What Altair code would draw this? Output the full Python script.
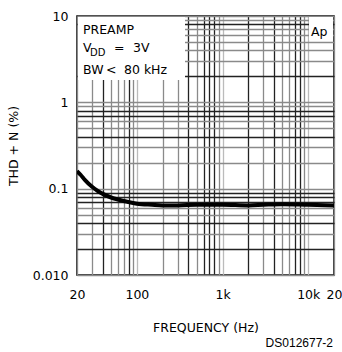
import altair as alt
import pandas as pd

# Curve data
freq = [20, 22, 25, 30, 35, 40, 50, 60, 70, 80, 100, 150, 200, 300, 500,
        1000, 2000, 3000, 5000, 10000, 20000]
thd = [0.16, 0.145, 0.125, 0.105, 0.094, 0.087, 0.079, 0.075, 0.072, 0.070,
       0.067, 0.065, 0.064, 0.064, 0.065, 0.065, 0.064, 0.065, 0.066, 0.065, 0.064]

# Grid positions
x_grid = [20, 30, 40, 50, 60, 70, 80, 90,
          100, 200, 300, 400, 500, 600, 700, 800, 900,
          1000, 2000, 3000, 4000, 5000, 6000, 7000, 8000, 9000,
          10000, 20000]
x_dark = [40, 80, 400, 600, 700, 800, 2000, 4000, 7000, 8000]
x_light = [100, 1000, 10000]
y_grid = [0.01, 0.02, 0.03, 0.04, 0.05, 0.06, 0.07, 0.08, 0.09,
          0.1, 0.2, 0.3, 0.4, 0.5, 0.6, 0.7, 0.8, 0.9,
          1, 2, 3, 4, 5, 6, 7, 8, 9, 10]
y_dark = [0.02, 0.04, 0.07, 0.08, 0.09, 0.4, 0.7, 0.8, 2, 8]

x_labels = {20: "20", 100: "100", 1000: "1k", 10000: "10k", 20000: "20"}
y_labels = {0.01: "0.010", 0.1: "0.1", 1: "1", 10: "10"}

FONT = "DejaVu Sans"
W, H = 257, 259


def is_one_of(vals):
    return " || ".join(f"abs(datum.value - {v}) < {v * 1e-6}" for v in vals)


def label_expr(mapping):
    expr = "''"
    for k, v in mapping.items():
        expr = f"abs(datum.value - {k}) < {k * 1e-6} ? '{v}' : " + expr
    return expr


def grid_color(dark, light=None):
    conds = [{"test": is_one_of(dark), "value": "#222222"}]
    if light:
        conds.append({"test": is_one_of(light), "value": "#bbbbbb"})
    return {"condition": conds, "value": "#8a8a8a"}


df = pd.DataFrame({"f": freq, "t": thd})

x_axis = alt.Axis(values=x_grid, labelExpr=label_expr(x_labels), grid=True,
                  gridColor=grid_color(x_dark, x_light), gridWidth=1.3,
                  ticks=False, domain=False, labelFlush=False, labelOverlap=False,
                  labelPadding=13, labelFont=FONT, labelFontSize=12.5, labelColor="black",
                  title="FREQUENCY (Hz)", titleFont=FONT, titleFontSize=12.5,
                  titleFontWeight="normal", titleColor="black",
                  titleX=W / 2, titleY=52, titleBaseline="middle", titleAlign="center")
y_axis = alt.Axis(values=y_grid, labelExpr=label_expr(y_labels), grid=True,
                  gridColor=grid_color(y_dark), gridWidth=1.3,
                  ticks=False, domain=False, labelFlush=False, labelOverlap=False,
                  labelPadding=9, labelFont=FONT, labelFontSize=12.5, labelColor="black",
                  title="THD + N (%)", titleFont=FONT, titleFontSize=12.5,
                  titleFontWeight="normal", titleColor="black",
                  titleX=-64, titleY=H / 2, titleAngle=-90,
                  titleBaseline="middle", titleAlign="center")

line = alt.Chart(df).mark_line(color="black", strokeWidth=4, clip=True,
                               interpolate="monotone").encode(
    x=alt.X("f:Q", scale=alt.Scale(type="log", domain=[20, 20000]), axis=x_axis),
    y=alt.Y("t:Q", scale=alt.Scale(type="log", domain=[0.01, 10]), axis=y_axis),
)

one = alt.Data(values=[{}])
box1 = alt.Chart(one).mark_rect(color="white").encode(
    x=alt.value(1), x2=alt.value(108), y=alt.value(1), y2=alt.value(64))
box2 = alt.Chart(one).mark_rect(color="white").encode(
    x=alt.value(232), x2=alt.value(256), y=alt.value(1), y2=alt.value(24))


def txt(s, x, y, size=12.5, align="left", font=FONT):
    return alt.Chart(one).mark_text(text=s, align=align, baseline="middle",
                                    font=font, fontSize=size, color="black").encode(
        x=alt.value(x), y=alt.value(y))


texts = [
    txt("PREAMP", 6, 14),
    txt("V", 6, 31.5),
    txt("DD", 13, 36.5, size=10),
    txt("=", 37, 31.5),
    txt("3V", 56, 31.5),
    txt("BW", 6, 54),
    txt("<", 29, 54),
    txt("80 kHz", 47, 54),
    txt("Ap", 234, 16),
    txt("DS012677-2", 256, 327, size=12, align="right", font="Liberation Sans"),
]

chart = alt.layer(line, box1, box2, *texts).properties(
    width=W, height=H,
    autosize=alt.AutoSizeParams(type="none"),
    padding={"left": 77, "top": 16, "right": 8, "bottom": 77},
).configure_view(stroke="black", strokeWidth=1.5)

chart.save("out.html", embed_options={"renderer": "svg", "actions": False})
